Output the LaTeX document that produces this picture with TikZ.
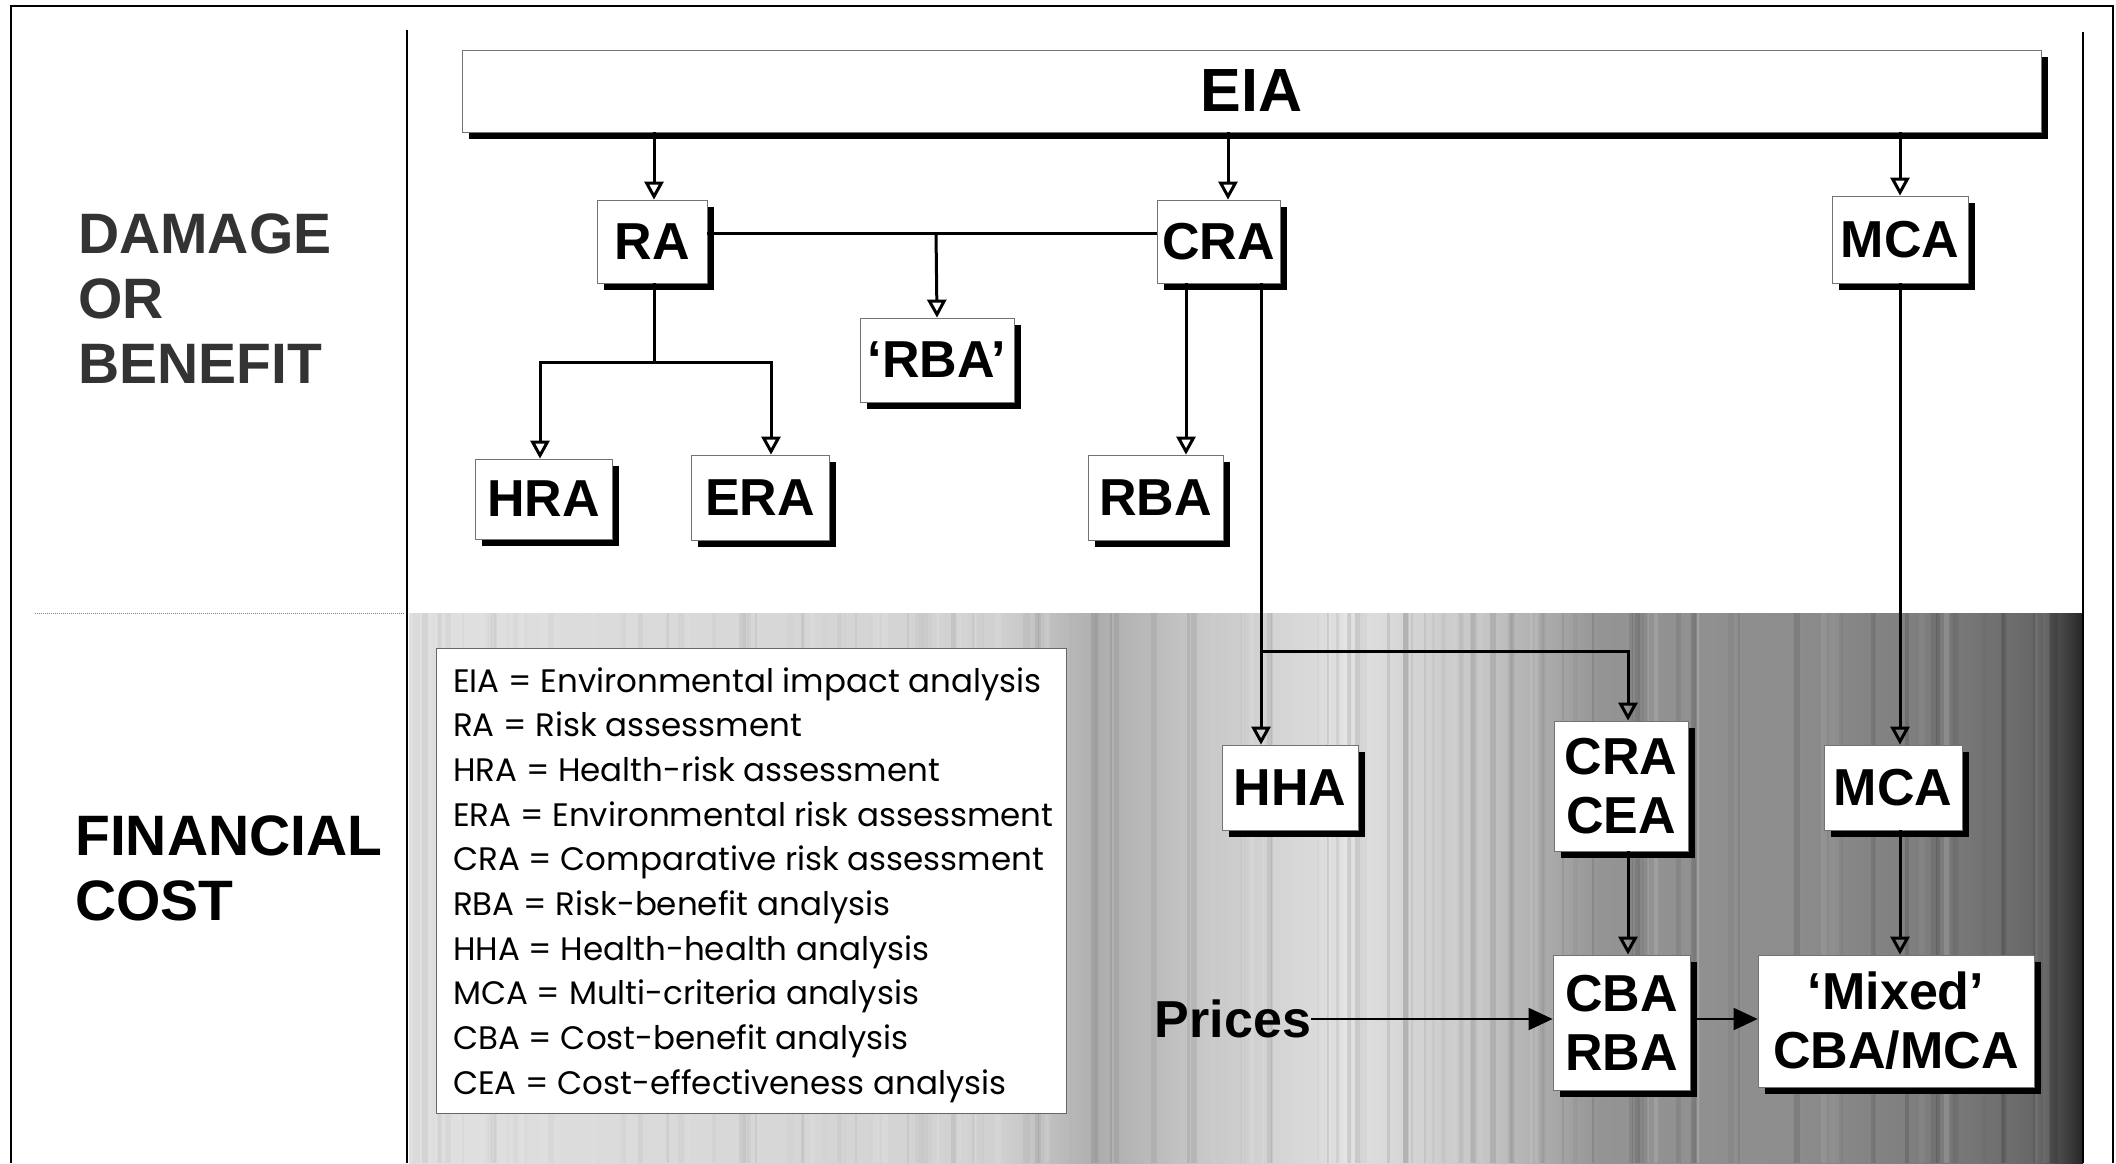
\documentclass[tikz,border=0pt]{standalone}
\usepackage{fontspec}
\setmainfont{Liberation Sans}
\newfontfamily\legfont{Poppins}
\usetikzlibrary{arrows.meta,shadows}

% grey band behind the financial-cost row (stops between 25bp and 75bp span the path)
\pgfdeclarehorizontalshading{costband}{100bp}{%
  color(0bp)=(black!12); color(25bp)=(black!12); color(42.6bp)=(black!18);
  color(45.6bp)=(black!32); color(48.6bp)=(black!22); color(53.1bp)=(black!12);
  color(57bp)=(black!22); color(60.6bp)=(black!42); color(66.5bp)=(black!45);
  color(71bp)=(black!52); color(73.7bp)=(black!60); color(75bp)=(black!85);
  color(100bp)=(black!85)}

\begin{document}
\begin{tikzpicture}[x=1pt,y=-1pt,
  box/.style={draw=black!55, line width=0.8pt, fill=white, inner sep=0pt,
    font=\fontsize{52}{59}\selectfont\bfseries, align=center,
    drop shadow={shadow xshift=7pt, shadow yshift=-7pt, fill=black, opacity=1}},
  side/.style={anchor=base west, inner sep=0pt, font=\fontsize{57}{65}\selectfont\bfseries},
  legtext/.style={anchor=base west, inner sep=0pt, font=\legfont\fontsize{32.5}{40}\selectfont},
  conn/.style={line width=3pt},
  arr/.style={line width=3pt, -{Triangle[open, length=18pt, width=19pt, line width=3pt]}},
  harr/.style={line width=2pt, -{Triangle[length=24pt, width=22pt]}},
  frame/.style={line width=2.2pt}]

\useasboundingbox (0,0) rectangle (2116,1163);
\fill[white] (0,0) rectangle (2116,1163);

% shaded lower row of the content area
\shade[shading=costband] (409,613) rectangle (2083,1163);
% vertical streaks of the halftone band, stronger towards the right
\pgfmathsetseed{11}
\foreach \k in {1,...,110}{
  \pgfmathsetmacro\sf{rnd}
  \pgfmathsetmacro\sx{412+\sf*1665}
  \pgfmathsetmacro\sw{1.5+rnd*6}
  \pgfmathsetmacro\so{(0.02+rnd*0.08)*(0.4+\sf)}
  \fill[black, opacity=\so] (\sx,613) rectangle ++(\sw,550);
}
\foreach \k in {1,...,50}{
  \pgfmathsetmacro\sx{420+rnd*1640}
  \pgfmathsetmacro\sw{1.5+rnd*5}
  \pgfmathsetmacro\so{0.04+rnd*0.1}
  \fill[white, opacity=\so] (\sx,613) rectangle ++(\sw,550);
}

% frame and dividers
\draw[frame] (11,1163) -- (11,6) -- (2113,6) -- (2113,1163);
\draw[frame] (407,30) -- (407,1163);
\draw[line width=1.2pt] (2083,32) -- (2083,1163);
\draw[black!50, densely dotted, line width=1pt] (35,613) -- (405,613);

% row labels
\node[side, text=black!80] (dmg1) at (78,253) {DAMAGE};
\node[side, text=black!80] (dmg2) at (78,318) {OR};
\node[side, text=black!80] (dmg3) at (78,383) {BENEFIT};
\node[side] (fin1) at (75,855) {FINANCIAL};
\node[side] (fin2) at (75,920) {COST};

% legend
\node[draw=black!60, line width=1pt, fill=white, minimum width=630pt, minimum height=465pt,
  inner sep=0pt] (legend) at (751,880.5) {};
\foreach \t [count=\i from 0] in {
  EIA = Environmental impact analysis,
  RA = Risk assessment,
  HRA = Health-risk assessment,
  ERA = Environmental risk assessment,
  CRA = Comparative risk assessment,
  RBA = Risk-benefit analysis,
  HHA = Health-health analysis,
  MCA = Multi-criteria analysis,
  CBA = Cost-benefit analysis,
  CEA = Cost-effectiveness analysis}
  \node[legtext] (leg\i) at (453,692+44.7*\i) {\t};

% boxes
\node[box, minimum width=1579pt, minimum height=82pt, font=\fontsize{61}{70}\selectfont\bfseries]
  (EIA) at (1251.5,91) {EIA};
\node[box, minimum width=110pt, minimum height=83pt] (RA) at (652,241.5) {RA};
\node[box, minimum width=123pt, minimum height=83pt] (CRA) at (1218.5,241.5) {CRA};
\node[box, minimum width=136pt, minimum height=87pt] (MCA) at (1900,239.5) {MCA};
\node[box, minimum width=154pt, minimum height=84pt] (qRBA) at (937,360) {‘RBA’};
\node[box, minimum width=137pt, minimum height=80pt] (HRA) at (543.5,499) {HRA};
\node[box, minimum width=138pt, minimum height=85pt] (ERA) at (760,497.5) {ERA};
\node[box, minimum width=135pt, minimum height=85pt] (RBA) at (1155.5,497.5) {RBA};
\node[box, minimum width=136pt, minimum height=85pt] (HHA) at (1290,787.5) {HHA};
\node[box, minimum width=134pt, minimum height=130pt] (CRACEA) at (1621,786) {CRA\\CEA};
\node[box, minimum width=138pt, minimum height=85pt] (MCAb) at (1893,787.5) {MCA};
\node[box, minimum width=137pt, minimum height=135pt] (CBARBA) at (1621.5,1022.5) {CBA\\RBA};
\node[box, minimum width=276pt, minimum height=132pt] (Mixed) at (1896,1021) {‘Mixed’\\CBA/MCA};
\node[inner sep=0pt, font=\fontsize{52}{59}\selectfont\bfseries] (Prices) at (1233,1019) {Prices};

% connector columns and junctions
\coordinate (xRA) at (654,0);
\coordinate (xCRA) at (1228,0);
\coordinate (xMCA) at (1900,0);
\coordinate (xHRA) at (540,0);
\coordinate (xERA) at (771,0);
\coordinate (xRBA) at (1186,0);
\coordinate (xHHA) at (1261,0);
\coordinate (xCEA) at (1628,0);
\coordinate (jRA) at (654,362);
\coordinate (jLink) at (936,233);
\coordinate (jCost) at (1261,651);

% EIA to the three approaches
\draw[arr] (EIA.south -| xRA) -- (RA.north -| xRA);
\draw[arr] (EIA.south -| xCRA) -- (CRA.north -| xCRA);
\draw[arr] (EIA.south -| xMCA) -- (MCA.north -| xMCA);

% RA and CRA link with the risk-benefit branch
\draw[conn] (RA.east |- jLink) -- (CRA.west |- jLink);
\draw[arr] (jLink) -- (qRBA.north);

% RA splits into HRA and ERA
\draw[conn] (RA.south -| jRA) -- (jRA);
\draw[arr] (jRA) -| (HRA.north -| xHRA);
\draw[arr] (jRA) -| (ERA.north -| xERA);

% CRA to RBA, HHA and CRA/CEA
\draw[arr] (CRA.south -| xRBA) -- (RBA.north -| xRBA);
\draw[arr] (CRA.south -| xHHA) -- (HHA.north -| xHHA);
\draw[arr] (jCost) -| (CRACEA.north -| xCEA);

% financial-cost row
\draw[arr] (MCA.south -| xMCA) -- (MCAb.north -| xMCA);
\draw[arr] (CRACEA.south -| xCEA) -- (CBARBA.north -| xCEA);
\draw[arr] (MCAb.south -| xMCA) -- (Mixed.north -| xMCA);
\draw[harr] (Prices.east) -- (CBARBA.west |- Prices);
\draw[harr] ([xshift=7pt]CBARBA.east |- Prices) -- (Mixed.west |- Prices);
\end{tikzpicture}
\end{document}
